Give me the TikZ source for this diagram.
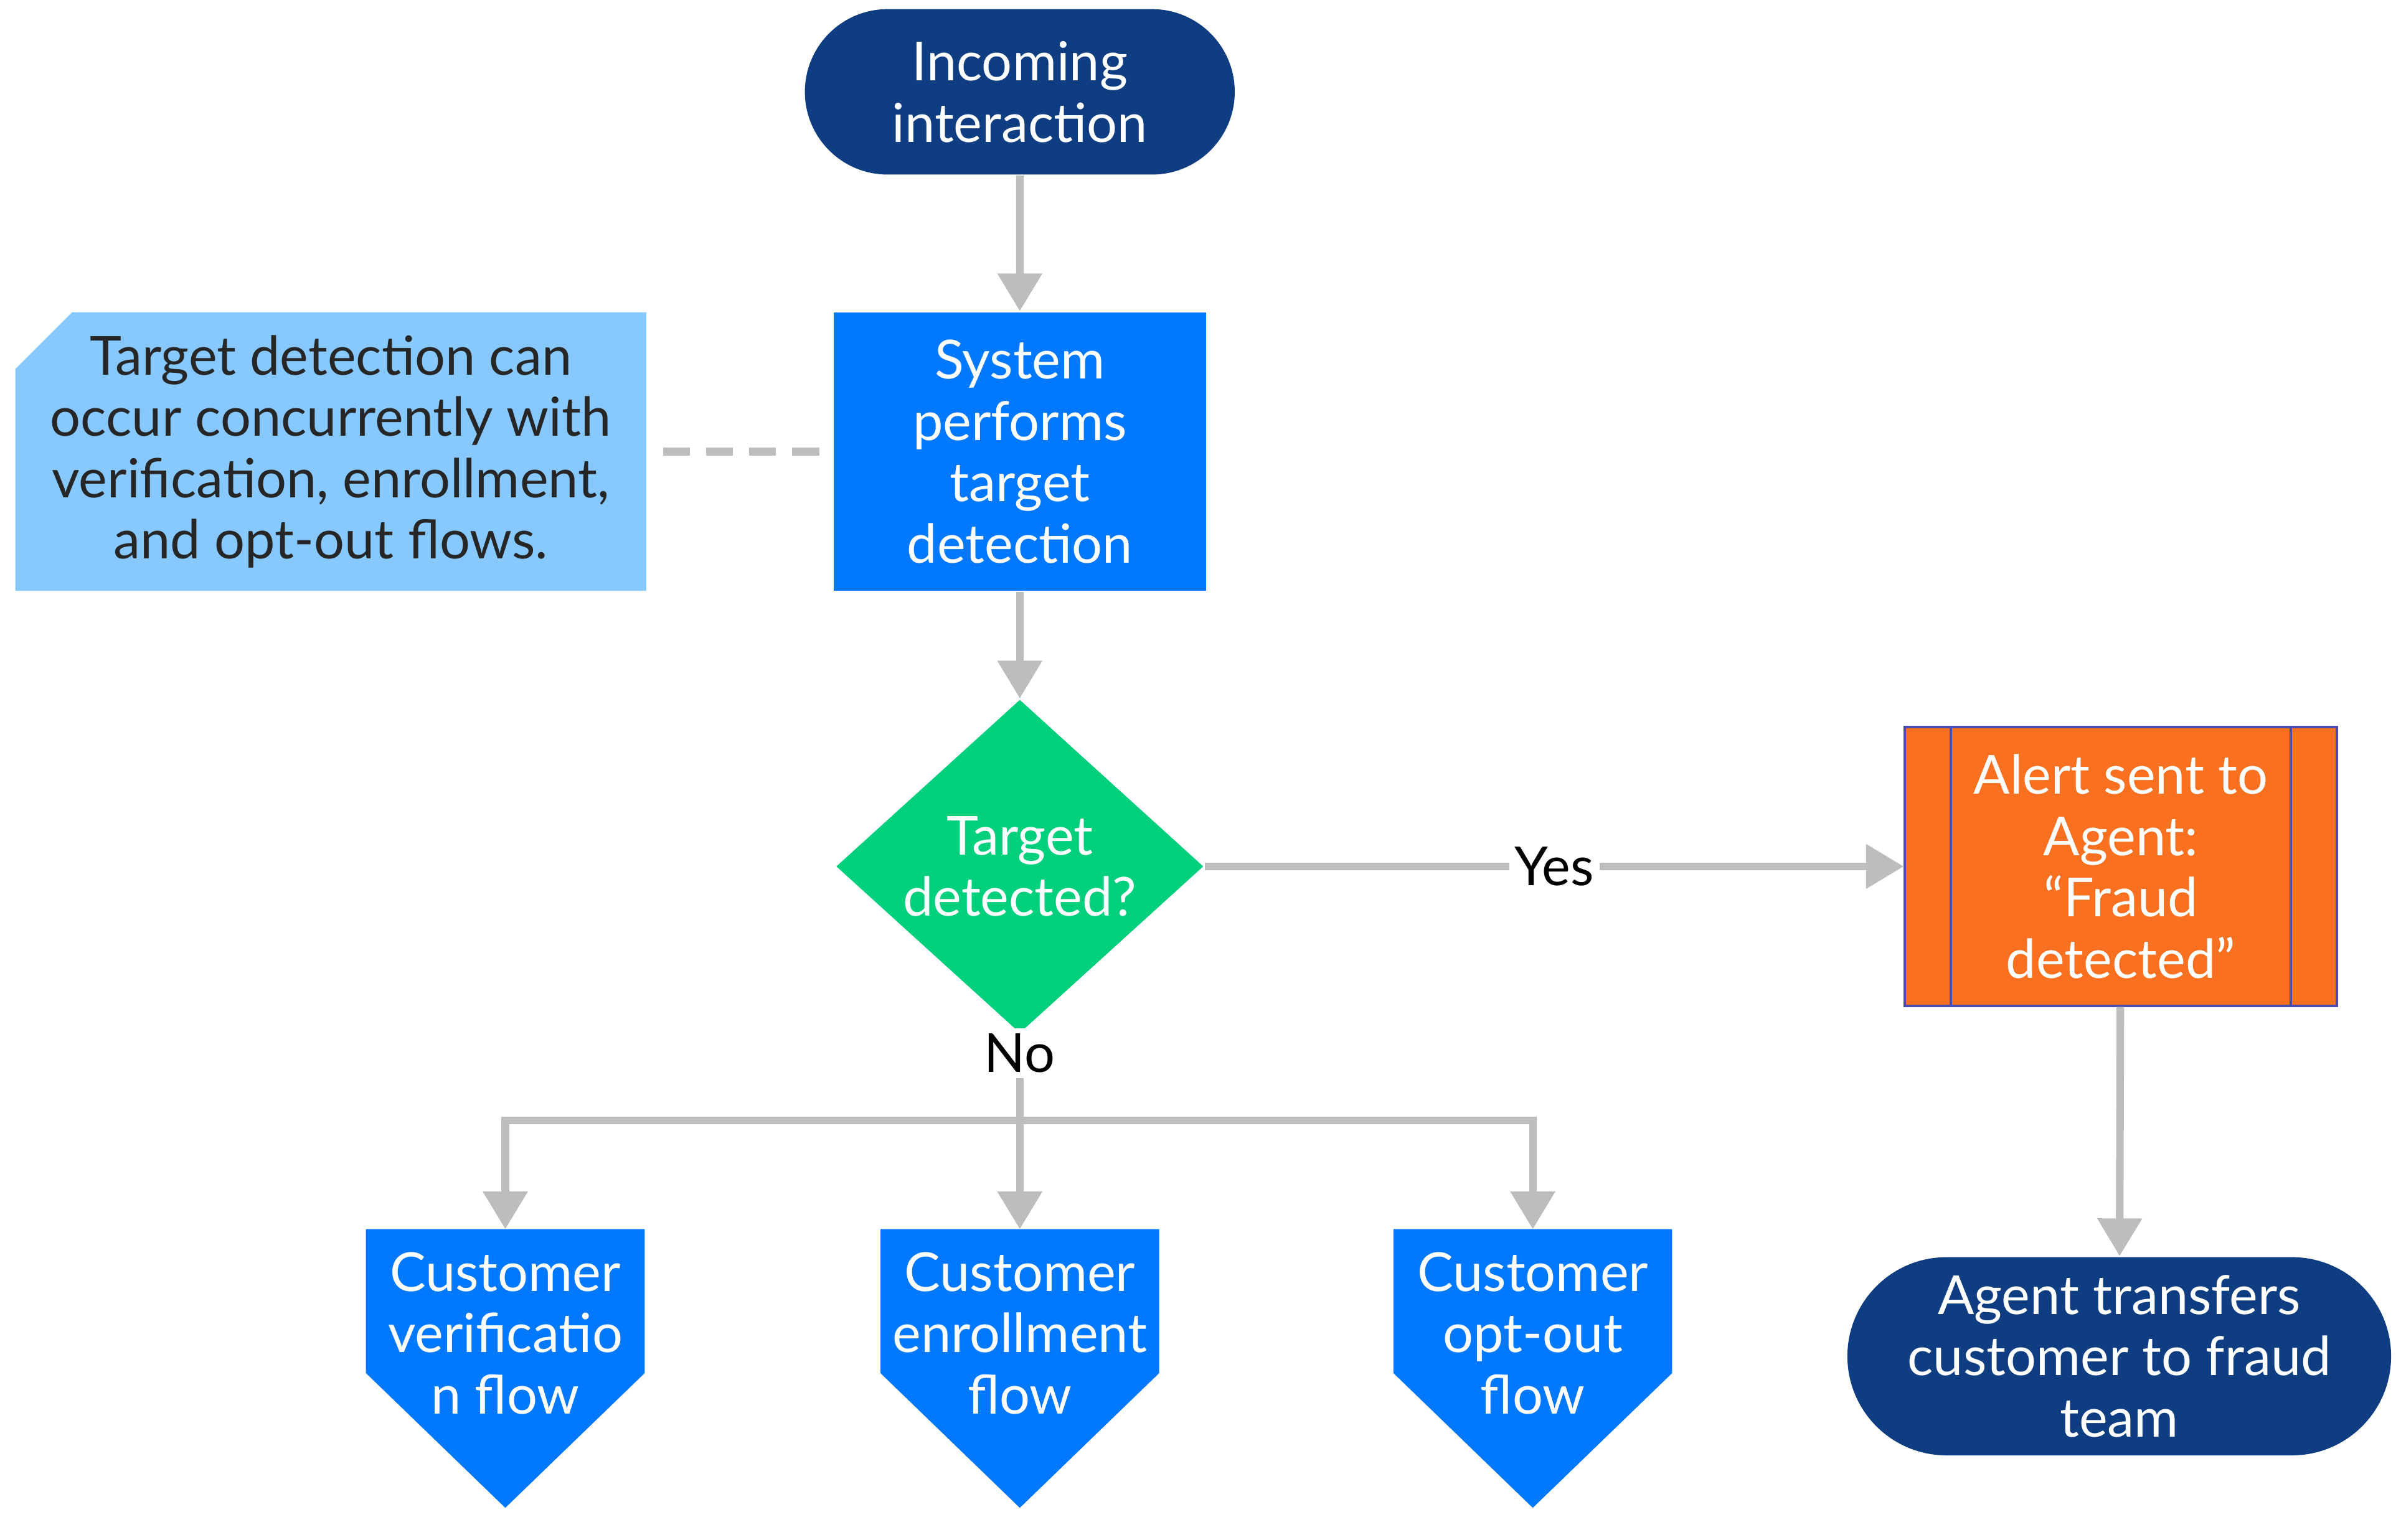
\documentclass[tikz,border=0pt]{standalone}
\usepackage{fontspec}
\setmainfont{Lato}
\usetikzlibrary{shapes.geometric,shapes.misc,arrows.meta}
\definecolor{darkblue}{HTML}{0F3D82}
\definecolor{brightblue}{HTML}{0078FF}
\definecolor{paleblue}{HTML}{87C8FF}
\definecolor{mint}{HTML}{00CF7C}
\definecolor{orange}{HTML}{F97020}
\definecolor{edgegray}{HTML}{BDBDBD}
\tikzset{
  txt/.style={font=\fontsize{10}{11.4}\selectfont, align=center, text=white},
  terminal/.style={txt, rounded rectangle, fill=darkblue},
  process/.style={txt, rectangle, fill=brightblue, minimum width=2.43cm, minimum height=1.82cm},
  decision/.style={txt, diamond, fill=mint, minimum width=2.4cm, minimum height=1.8cm, inner sep=0pt},
  arrow/.style={draw=edgegray, line width=1.4pt, -{Triangle[length=7pt,width=8pt]}},
  line/.style={draw=edgegray, line width=1.4pt},
  label/.style={font=\fontsize{10}{11.4}\selectfont, fill=white, inner sep=1pt},
}
\begin{document}
\begin{tikzpicture}[x=0.01cm, y=-0.01cm]
  \useasboundingbox (0,0) rectangle (1568,1006);

  % top part
  \node[terminal, minimum width=3.04cm, minimum height=1.08cm] (start) at (666,60) {Incoming\\interaction};
  \node[process] (system) at (666,295) {System\\performs\\target\\detection};
  \fill[paleblue] (10,241) -- (47,204) -- (422,204) -- (422,386) -- (10,386) -- cycle;
  \node[txt, text=black!85, align=center] (note) at (216,295) {Target detection can\\occur concurrently with\\verification, enrollment,\\and opt-out flows.};
  \coordinate (noteend) at (433,295);
  \draw[line, dash pattern=on 5pt off 3pt] (noteend) -- (system.west);
  \draw[arrow] (start) -- (system);

  % decision
  \node[decision] (target) at (666,566) {Target\\detected?};
  \draw[arrow] (system) -- (target);
  \node[txt, rectangle, fill=orange, draw=blue!40!gray, minimum width=2.82cm, minimum height=1.82cm] (alert) at (1385,566) {Alert sent to\\Agent:\\“Fraud\\detected”};
  \draw[blue!40!gray] (1274,475) -- (1274,657) (1496,475) -- (1496,657);
  \draw[arrow] (target) -- node[label] {Yes} (alert);
  \node[terminal, minimum width=3.4cm, minimum height=1.26cm] (transfer) at (1384,886) {Agent transfers\\customer to fraud\\team};
  \draw[arrow] (alert) -- (transfer);

  % outgoing flows
  \coordinate (split) at (666,732);
  \draw[line] (target.south) -- (split);
  \node[label] (no) at (666,688) {No};
  \foreach \name/\x/\text in {verify/330/{Customer\\verificatio\\n flow}, enroll/666/{Customer\\enrollment\\flow}, optout/1001/{Customer\\opt-out\\flow}}{
    \fill[brightblue] (\x-91,803) -- (\x+91,803) -- (\x+91,897) -- (\x,985) -- (\x-91,897) -- cycle;
    \node[txt] (\name) at (\x,871) {\text};
    \coordinate (\name-top) at (\x,803);
    \coordinate (\name-turn) at (\x,732);
    \draw[arrow] (split) -- (\name-turn) -- (\name-top);
  }
\end{tikzpicture}
\end{document}
